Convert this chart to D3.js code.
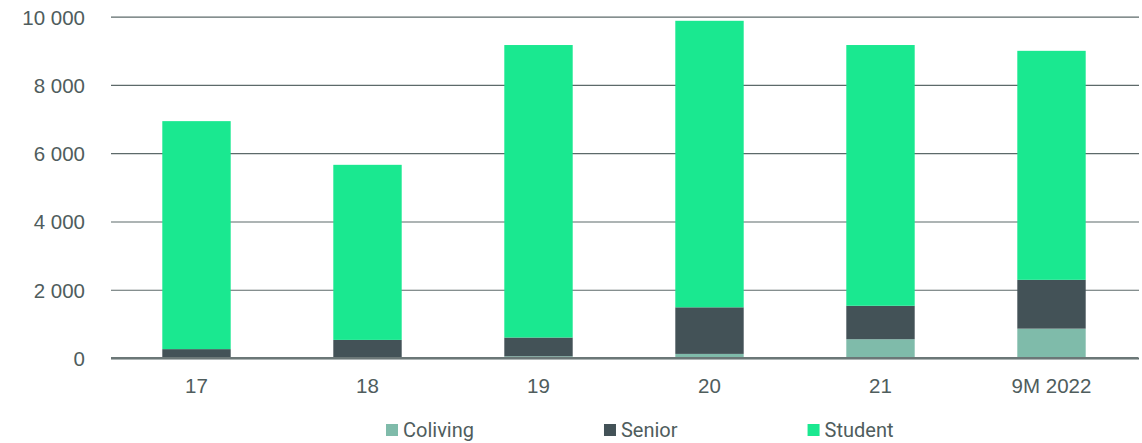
<!DOCTYPE html>
<html>
<head>
<meta charset="utf-8">
<script src="https://cdn.jsdelivr.net/npm/d3@7"></script>
<style>
  html, body { margin: 0; padding: 0; background: #fff; }
  svg { display: block; font-family: Roboto, "Noto Sans", sans-serif; }
</style>
</head>
<body>
<svg id="chart" width="1142" height="443"></svg>
<script>
// Periods on the x axis
const categories = ["17", "18", "19", "20", "21", "9M 2022"];

// Stacked series values per period
const coliving = [0, 0, 50, 120, 550, 860];
const senior   = [260, 530, 550, 1365, 980, 1430];
const student  = [6680, 5130, 8570, 8395, 7640, 6710];

const seriesNames = ["Coliving", "Senior", "Student"];
const yTicks = [0, 2000, 4000, 6000, 8000, 10000];

const colors = { Coliving: "#7fbbaa", Senior: "#435257", Student: "#1ae890" };
const textColor = "#4f5d5d";

const svg = d3.select("#chart");
const margin = { top: 17, right: 5, bottom: 85, left: 111 };
const width = 1142, height = 443;

const rows = categories.map((c, i) => ({
  cat: c, Coliving: coliving[i], Senior: senior[i], Student: student[i]
}));

const x = d3.scaleBand()
  .domain(categories)
  .range([margin.left, width - margin.right])
  .paddingInner(0.6)
  .paddingOuter(0.3);

const y = d3.scaleLinear()
  .domain([0, 10000])
  .range([358, 16.7]);

const fmtSpace = v => d3.format(",")(v).replace(/,/g, " ");

// Gridlines and y labels
const yAxis = d3.axisLeft(y)
  .tickValues(yTicks)
  .tickSize(-(width - margin.right - margin.left + 2))
  .tickPadding(26)
  .tickFormat(fmtSpace);

const gy = svg.append("g")
  .attr("transform", `translate(${margin.left},0)`)
  .call(yAxis);
gy.select(".domain").remove();
gy.selectAll(".tick line")
  .attr("stroke", "#5d6a6a")
  .attr("stroke-width", d => d === 0 ? 2 : 1.2);
gy.selectAll(".tick text")
  .attr("fill", textColor)
  .attr("font-size", 20.5)
  .attr("dy", "0.36em");

// Stacked bars
const stack = d3.stack().keys(seriesNames);
const layers = stack(rows);

svg.append("g")
  .selectAll("g")
  .data(layers)
  .join("g")
  .attr("fill", d => colors[d.key])
  .selectAll("rect")
  .data(d => d)
  .join("rect")
  .attr("x", d => x(d.data.cat))
  .attr("width", x.bandwidth())
  .attr("y", d => y(d[1]))
  .attr("height", d => Math.max(0, y(d[0]) - y(d[1])));

// Redraw baseline on top of the bars
svg.append("line")
  .attr("x1", margin.left)
  .attr("x2", width - margin.right + 1)
  .attr("y1", y(0))
  .attr("y2", y(0))
  .attr("stroke", "#6b7777")
  .attr("stroke-width", 2);

// X axis labels
const xAxis = d3.axisBottom(x).tickSize(0).tickPadding(20);
const gx = svg.append("g")
  .attr("transform", `translate(0,${y(0)})`)
  .call(xAxis);
gx.select(".domain").remove();
gx.selectAll(".tick text")
  .attr("fill", textColor)
  .attr("font-size", 20.5)
  .attr("dy", "0.71em");

// Legend
const legend = svg.append("g").attr("transform", "translate(386,0)");
let offset = 0;
seriesNames.forEach(name => {
  const item = legend.append("g").attr("transform", `translate(${offset},0)`);
  item.append("rect")
    .attr("x", 0).attr("y", 424)
    .attr("width", 12).attr("height", 12)
    .attr("fill", colors[name]);
  const t = item.append("text")
    .attr("x", 17).attr("y", 437)
    .attr("fill", textColor)
    .attr("font-size", 20)
    .text(name);
  offset += 17 + t.node().getComputedTextLength() + 130;
});
</script>
</body>
</html>
